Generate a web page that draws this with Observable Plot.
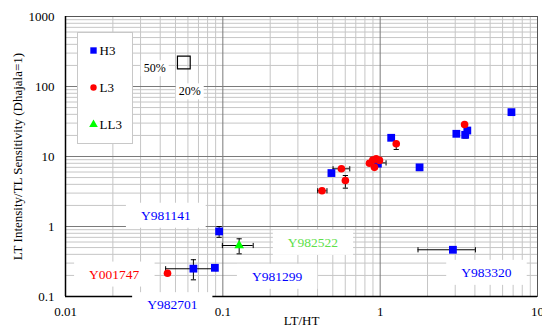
<!DOCTYPE html>
<html><head><meta charset="utf-8">
<script src="https://cdn.jsdelivr.net/npm/d3@7"></script>
<script src="https://cdn.jsdelivr.net/npm/@observablehq/plot@0.6"></script>
<style>body{margin:0;background:#fff}svg{display:block}</style>
</head><body><div id="chart"></div>
<script>
// ---- data ----
const h3X = [0.0947, 0.065, 0.089, 0.49, 0.967, 1.175, 1.78, 2.9, 3.05, 3.47, 3.58, 6.83];
const h3Y = [0.85, 0.25, 0.257, 5.8, 7.9, 18.5, 7.0, 0.465, 21.1, 20.4, 23.5, 43];
const l3X = [0.0445, 0.427, 0.567, 0.601, 0.855, 0.898, 0.943, 0.99, 0.92, 1.265, 3.44];
const l3Y = [0.215, 3.24, 6.67, 4.54, 8.0, 8.9, 9.3, 8.8, 7.0, 15.2, 28.6];
const ll3X = [0.127];
const ll3Y = [0.535];

// horizontal error bars (y, low x, high x)
const xErrY  = [0.249, 0.535, 0.465, 6.67, 3.24, 8.1];
const xErrLo = [0.0433, 0.0993, 1.74, 0.502, 0.401, 0.836];
const xErrHi = [0.0903, 0.156, 4.03, 0.641, 0.459, 1.09];
// vertical error bars (x, low y, high y)
const yErrX  = [0.065, 0.0947, 0.127, 0.601, 1.265, 1.78, 3.47];
const yErrLo = [0.173, 0.70, 0.407, 3.53, 12.6, 6.3, 18.3];
const yErrHi = [0.335, 1.0, 0.667, 5.35, 15.5, 7.3, 21.0];

// sample labels
const sampleNames  = ["Y981141", "Y001747", "Y982701", "Y981299", "Y982522", "Y983320"];
const sampleX      = [0.0434, 0.0204, 0.0477, 0.221, 0.374, 4.73];
const sampleY      = [1.44, 0.208, 0.076, 0.193, 0.59, 0.22];
const sampleColors = ["#0000ff", "#ff0000", "#0000ff", "#0000ff", "#5ee04a", "#0000ff"];

// percent annotation
const pctNames = ["50%", "20%"];
const pctX = [0.0369, 0.0616];
const pctY = [181, 84.8];
const boxX = [0.0565];
const boxY = [220];

const xTicks = [0.01, 0.1, 1, 10];
const yTicks = [0.1, 1, 10, 100, 1000];
const legendNames = ["H3", "L3", "LL3"];
const legendColors = ["#0000ff", "#ff0000", "#00ff00"];
const legendSymbols = ["square", "circle", "triangle"];

const xMinor = d3.scaleLog().domain([0.01, 10]).ticks().filter(d => !xTicks.some(t => Math.abs(t - d) / t < 1e-9));
const yMinor = d3.scaleLog().domain([0.1, 1000]).ticks().filter(d => !yTicks.some(t => Math.abs(t - d) / t < 1e-9));

const vCap = {draw(ctx, size) { const r = Math.sqrt(size / Math.PI); ctx.moveTo(0, -r); ctx.lineTo(0, r); }};
const hCap = {draw(ctx, size) { const r = Math.sqrt(size / Math.PI); ctx.moveTo(-r, 0); ctx.lineTo(r, 0); }};

const pts = (xs, ys) => xs.map((x, i) => ({x, y: ys[i]}));
const xe = xErrY.map((y, i) => ({y, lo: xErrLo[i], hi: xErrHi[i]}));
const ye = yErrX.map((x, i) => ({x, lo: yErrLo[i], hi: yErrHi[i]}));
const samples = sampleNames.map((n, i) => ({n, x: sampleX[i], y: sampleY[i], c: sampleColors[i]}));
const pcts = pctNames.map((n, i) => ({n, x: pctX[i], y: pctY[i]}));

const legendMarks = [];
legendNames.forEach((n, i) => {
  legendMarks.push(Plot.text([n], {frameAnchor: "top-left", dx: 34, dy: 34 + i * 37, text: d => d,
    textAnchor: "start", lineAnchor: "middle", fontSize: 13, fill: "black"}));
});
legendNames.forEach((n, i) => {
  legendMarks.push(Plot.dot([n], {frameAnchor: "top-left", dx: 28, dy: 34 + i * 37,
    symbol: legendSymbols[i], fill: legendColors[i], r: i === 0 ? 3.6 : 3.2}));
});

const chart = Plot.plot({
  width: 542, height: 332,
  marginLeft: 65, marginRight: 5, marginTop: 16, marginBottom: 36,
  style: {fontFamily: "'Liberation Serif', 'Times New Roman', serif", fontSize: "13px", background: "#fff"},
  x: {type: "log", domain: [0.01, 10]},
  y: {type: "log", domain: [0.1, 1000]},
  marks: [
    Plot.ruleX(xMinor, {stroke: "#c6c6c6"}),
    Plot.ruleY(yMinor, {stroke: "#c6c6c6"}),
    Plot.ruleX(xTicks, {stroke: "#7a7a7a"}),
    Plot.ruleY(yTicks, {stroke: "#7a7a7a"}),
    Plot.frame({stroke: "#555"}),
    Plot.ruleX([0.01], {stroke: "black", strokeWidth: 1.5}),
    Plot.ruleY([0.1], {stroke: "black", strokeWidth: 1.5}),
    Plot.axisX({ticks: xTicks, tickSize: 0, tickPadding: 10, fontSize: 13, tickFormat: d => String(d), label: null}),
    Plot.axisY({ticks: yTicks, tickSize: 0, tickPadding: 11, fontSize: 13, tickFormat: d => String(d), label: null}),
    Plot.text(["LT Intensity/TL Sensitivity (Dhajala=1)"], {frameAnchor: "left", dx: -48, rotate: -90, textAnchor: "middle", lineAnchor: "middle", text: d => d, fontSize: 13, fill: "black"}),
    Plot.text(["LT/HT"], {frameAnchor: "bottom", dy: 28, text: d => d, fontSize: 13, fill: "black"}),
    // error bars
    Plot.ruleY(xe, {y: "y", x1: "lo", x2: "hi", stroke: "black", strokeWidth: 1}),
    Plot.dot(xe, {x: "lo", y: "y", symbol: vCap, r: 2.6, stroke: "black", strokeWidth: 1}),
    Plot.dot(xe, {x: "hi", y: "y", symbol: vCap, r: 2.6, stroke: "black", strokeWidth: 1}),
    Plot.ruleX(ye, {x: "x", y1: "lo", y2: "hi", stroke: "black", strokeWidth: 1}),
    Plot.dot(ye, {x: "x", y: "lo", symbol: hCap, r: 2.6, stroke: "black", strokeWidth: 1}),
    Plot.dot(ye, {x: "x", y: "hi", symbol: hCap, r: 2.6, stroke: "black", strokeWidth: 1}),
    // data
    Plot.dot(pts(h3X, h3Y), {x: "x", y: "y", symbol: "square", r: 4.4, fill: "#0000ff"}),
    Plot.dot(pts(l3X, l3Y), {x: "x", y: "y", symbol: "circle", r: 3.8, fill: "#ff0000"}),
    Plot.dot(pts(ll3X, ll3Y), {x: "x", y: "y", symbol: "triangle", r: 3.6, fill: "#00ff00"}),
    // percent annotation
    Plot.dot(pts(boxX, boxY), {x: "x", y: "y", symbol: "square", r: 7.2, fill: "none", stroke: "black", strokeWidth: 1.2}),
    Plot.text(pcts, {x: "x", y: "y", text: "n", fontSize: 12, fill: "black"}),
    // sample labels
    Plot.text(samples, {x: "x", y: "y", text: "n", fill: "c", fontSize: 13.5}),
    ...legendMarks
  ]
});
document.getElementById("chart").append(chart);

// white boxes behind annotation labels
const NS = "http://www.w3.org/2000/svg";
const root = chart.getBoundingClientRect();
function boxBefore(el, before, x, y, w, h, stroke) {
  const r = document.createElementNS(NS, "rect");
  r.setAttribute("x", x); r.setAttribute("y", y);
  r.setAttribute("width", w); r.setAttribute("height", h);
  r.setAttribute("fill", "#fff");
  if (stroke) { r.setAttribute("stroke", stroke); r.setAttribute("stroke-width", 1); }
  before.parentNode.insertBefore(r, before);
}
const texts = Array.from(chart.querySelectorAll("text"));
texts.forEach(t => {
  const s = t.textContent;
  const isSample = sampleNames.includes(s), isPct = pctNames.includes(s);
  if (!isSample && !isPct) return;
  const b = t.getBoundingClientRect();
  const px = isSample ? 15 : 3, py = isSample ? 5 : 1;
  boxBefore(chart, t.parentNode, b.left - root.left - px, b.top - root.top - py, b.width + 2 * px, b.height + 2 * py);
});
// legend box
const h3Text = texts.find(t => t.textContent === "H3");
if (h3Text) boxBefore(chart, h3Text.parentNode, 77.5, 32.5, 55, 111, "#c8c8c8");
</script>
</body></html>
